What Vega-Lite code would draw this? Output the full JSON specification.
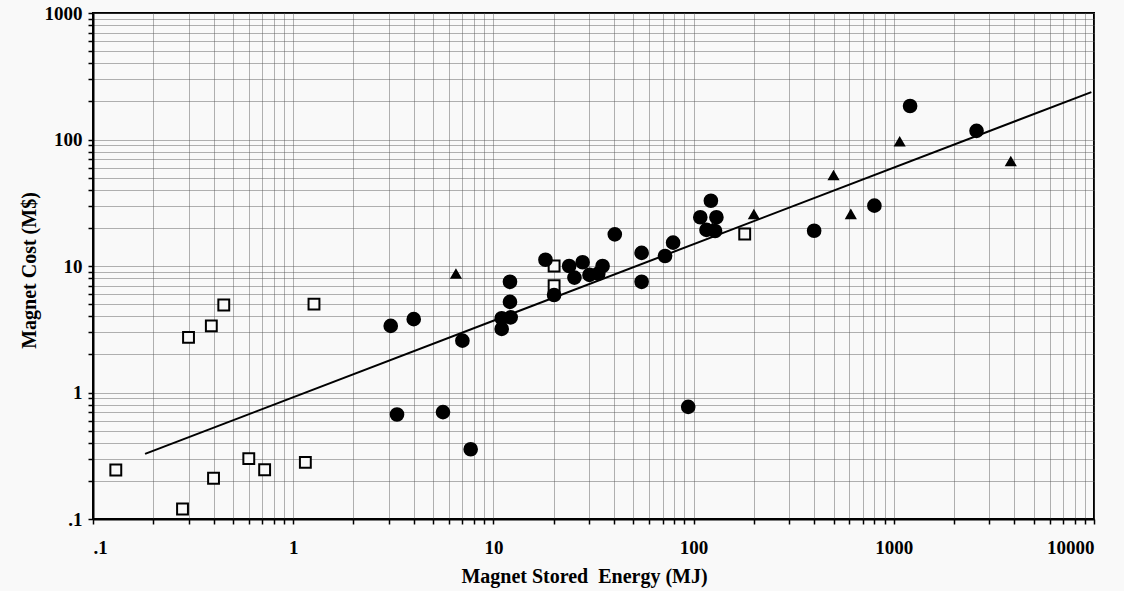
{
  "$schema": "https://vega.github.io/schema/vega-lite/v6.json",
  "autosize": "none",
  "width": 1001,
  "height": 506,
  "padding": {"left": 93, "top": 13, "right": 30, "bottom": 72},
  "background": "#f9f9f9",
  "config": {
    "view": {"stroke": "#000", "strokeWidth": 2},
    "font": "Liberation Serif",
    "axis": {
      "labelFont": "Liberation Serif",
      "labelFontWeight": "bold",
      "labelFontSize": 19,
      "labelColor": "#000",
      "titleFont": "Liberation Serif",
      "titleFontWeight": "bold",
      "titleFontSize": 20,
      "titleColor": "#000",
      "domainColor": "#000",
      "domainWidth": 2,
      "tickColor": "#000",
      "tickWidth": 1.5,
      "tickSize": 5,
      "gridColor": "#555",
      "gridDash": [1, 1],
      "gridWidth": 1,
      "gridOpacity": 0.9,
      "labelOverlap": false
    }
  },
  "datasets": {
    "points": [
      {"energy": 0.13, "cost": 0.244, "group": "square"},
      {"energy": 0.28, "cost": 0.12, "group": "square"},
      {"energy": 0.30, "cost": 2.73, "group": "square"},
      {"energy": 0.39, "cost": 3.36, "group": "square"},
      {"energy": 0.45, "cost": 4.92, "group": "square"},
      {"energy": 0.40, "cost": 0.21, "group": "square"},
      {"energy": 0.60, "cost": 0.30, "group": "square"},
      {"energy": 0.72, "cost": 0.245, "group": "square"},
      {"energy": 1.15, "cost": 0.28, "group": "square"},
      {"energy": 1.27, "cost": 5.0, "group": "square"},
      {"energy": 20.1, "cost": 10.0, "group": "square"},
      {"energy": 20.1, "cost": 7.0, "group": "square"},
      {"energy": 180, "cost": 17.9, "group": "square"},
      {"energy": 3.07, "cost": 3.36, "group": "circle"},
      {"energy": 4.0, "cost": 3.8, "group": "circle"},
      {"energy": 7.0, "cost": 2.57, "group": "circle"},
      {"energy": 3.3, "cost": 0.67, "group": "circle"},
      {"energy": 5.6, "cost": 0.70, "group": "circle"},
      {"energy": 7.7, "cost": 0.356, "group": "circle"},
      {"energy": 12.1, "cost": 7.5, "group": "circle"},
      {"energy": 12.1, "cost": 5.2, "group": "circle"},
      {"energy": 11.0, "cost": 3.86, "group": "circle"},
      {"energy": 12.2, "cost": 3.93, "group": "circle"},
      {"energy": 11.0, "cost": 3.18, "group": "circle"},
      {"energy": 18.2, "cost": 11.2, "group": "circle"},
      {"energy": 20.1, "cost": 5.9, "group": "circle"},
      {"energy": 23.9, "cost": 10.0, "group": "circle"},
      {"energy": 27.9, "cost": 10.7, "group": "circle"},
      {"energy": 25.4, "cost": 8.1, "group": "circle"},
      {"energy": 30.2, "cost": 8.5, "group": "circle"},
      {"energy": 33.4, "cost": 8.7, "group": "circle"},
      {"energy": 35.1, "cost": 10.0, "group": "circle"},
      {"energy": 40.4, "cost": 17.8, "group": "circle"},
      {"energy": 55, "cost": 12.7, "group": "circle"},
      {"energy": 55, "cost": 7.5, "group": "circle"},
      {"energy": 72, "cost": 12.0, "group": "circle"},
      {"energy": 79, "cost": 15.3, "group": "circle"},
      {"energy": 94, "cost": 0.77, "group": "circle"},
      {"energy": 122, "cost": 32.8, "group": "circle"},
      {"energy": 108, "cost": 24.3, "group": "circle"},
      {"energy": 130, "cost": 24.3, "group": "circle"},
      {"energy": 116, "cost": 19.3, "group": "circle"},
      {"energy": 128, "cost": 18.9, "group": "circle"},
      {"energy": 400, "cost": 19.0, "group": "circle"},
      {"energy": 800, "cost": 30.0, "group": "circle"},
      {"energy": 1206, "cost": 184, "group": "circle"},
      {"energy": 2590, "cost": 117, "group": "circle"},
      {"energy": 6.5, "cost": 8.65, "group": "triangle"},
      {"energy": 124, "cost": 20.0, "group": "triangle"},
      {"energy": 200, "cost": 25.5, "group": "triangle"},
      {"energy": 500, "cost": 52, "group": "triangle"},
      {"energy": 610, "cost": 25.6, "group": "triangle"},
      {"energy": 1070, "cost": 96, "group": "triangle"},
      {"energy": 3840, "cost": 67, "group": "triangle"}
    ],
    "fit": [
      {"energy": 0.182, "cost": 0.327},
      {"energy": 9700, "cost": 237}
    ]
  },
  "layer": [
    {
      "data": {"name": "fit"},
      "mark": {"type": "line", "color": "#000", "strokeWidth": 2},
      "encoding": {
        "x": {
          "field": "energy", "type": "quantitative",
          "scale": {"type": "log", "domain": [0.1, 10000], "nice": false},
          "axis": {
            "title": "Magnet Stored\u00a0 Energy (MJ)",
            "values": [0.1,0.2,0.3,0.4,0.5,0.6,0.7,0.8,0.9,1,2,3,4,5,6,7,8,9,10,20,30,40,50,60,70,80,90,100,200,300,400,500,600,700,800,900,1000,2000,3000,4000,5000,6000,7000,8000,9000,10000],
            "labelExpr": "datum.value == 0.1 ? '.1' : ((datum.value == 1 || datum.value == 10 || datum.value == 100 || datum.value == 1000 || datum.value == 10000) ? format(datum.value, 'd') : '')",
            "labelPadding": 14,
            "titlePadding": 9,
            "titleX": 491
          }
        },
        "y": {
          "field": "cost", "type": "quantitative",
          "scale": {"type": "log", "domain": [0.1, 1000], "nice": false},
          "axis": {
            "title": "Magnet Cost (M$)",
            "values": [0.1,0.2,0.3,0.4,0.5,0.6,0.7,0.8,0.9,1,2,3,4,5,6,7,8,9,10,20,30,40,50,60,70,80,90,100,200,300,400,500,600,700,800,900,1000],
            "labelExpr": "datum.value == 0.1 ? '.1' : ((datum.value == 1 || datum.value == 10 || datum.value == 100 || datum.value == 1000) ? format(datum.value, 'd') : '')",
            "labelPadding": 6,
            "titlePadding": 5,
            "titleY": 257
          }
        }
      }
    },
    {
      "data": {"name": "points"},
      "mark": {"type": "point", "filled": true, "stroke": "#000", "strokeWidth": 2, "opacity": 1},
      "encoding": {
        "x": {"field": "energy", "type": "quantitative"},
        "y": {"field": "cost", "type": "quantitative"},
        "shape": {
          "field": "group", "type": "nominal",
          "scale": {"domain": ["circle", "square", "triangle"], "range": ["circle", "square", "triangle-up"]},
          "legend": null
        },
        "fill": {
          "field": "group", "type": "nominal",
          "scale": {"domain": ["circle", "square", "triangle"], "range": ["#000", "#f9f9f9", "#000"]},
          "legend": null
        },
        "size": {
          "field": "group", "type": "nominal",
          "scale": {"domain": ["circle", "square", "triangle"], "range": [160, 76, 240]},
          "legend": null
        }
      }
    }
  ]
}
